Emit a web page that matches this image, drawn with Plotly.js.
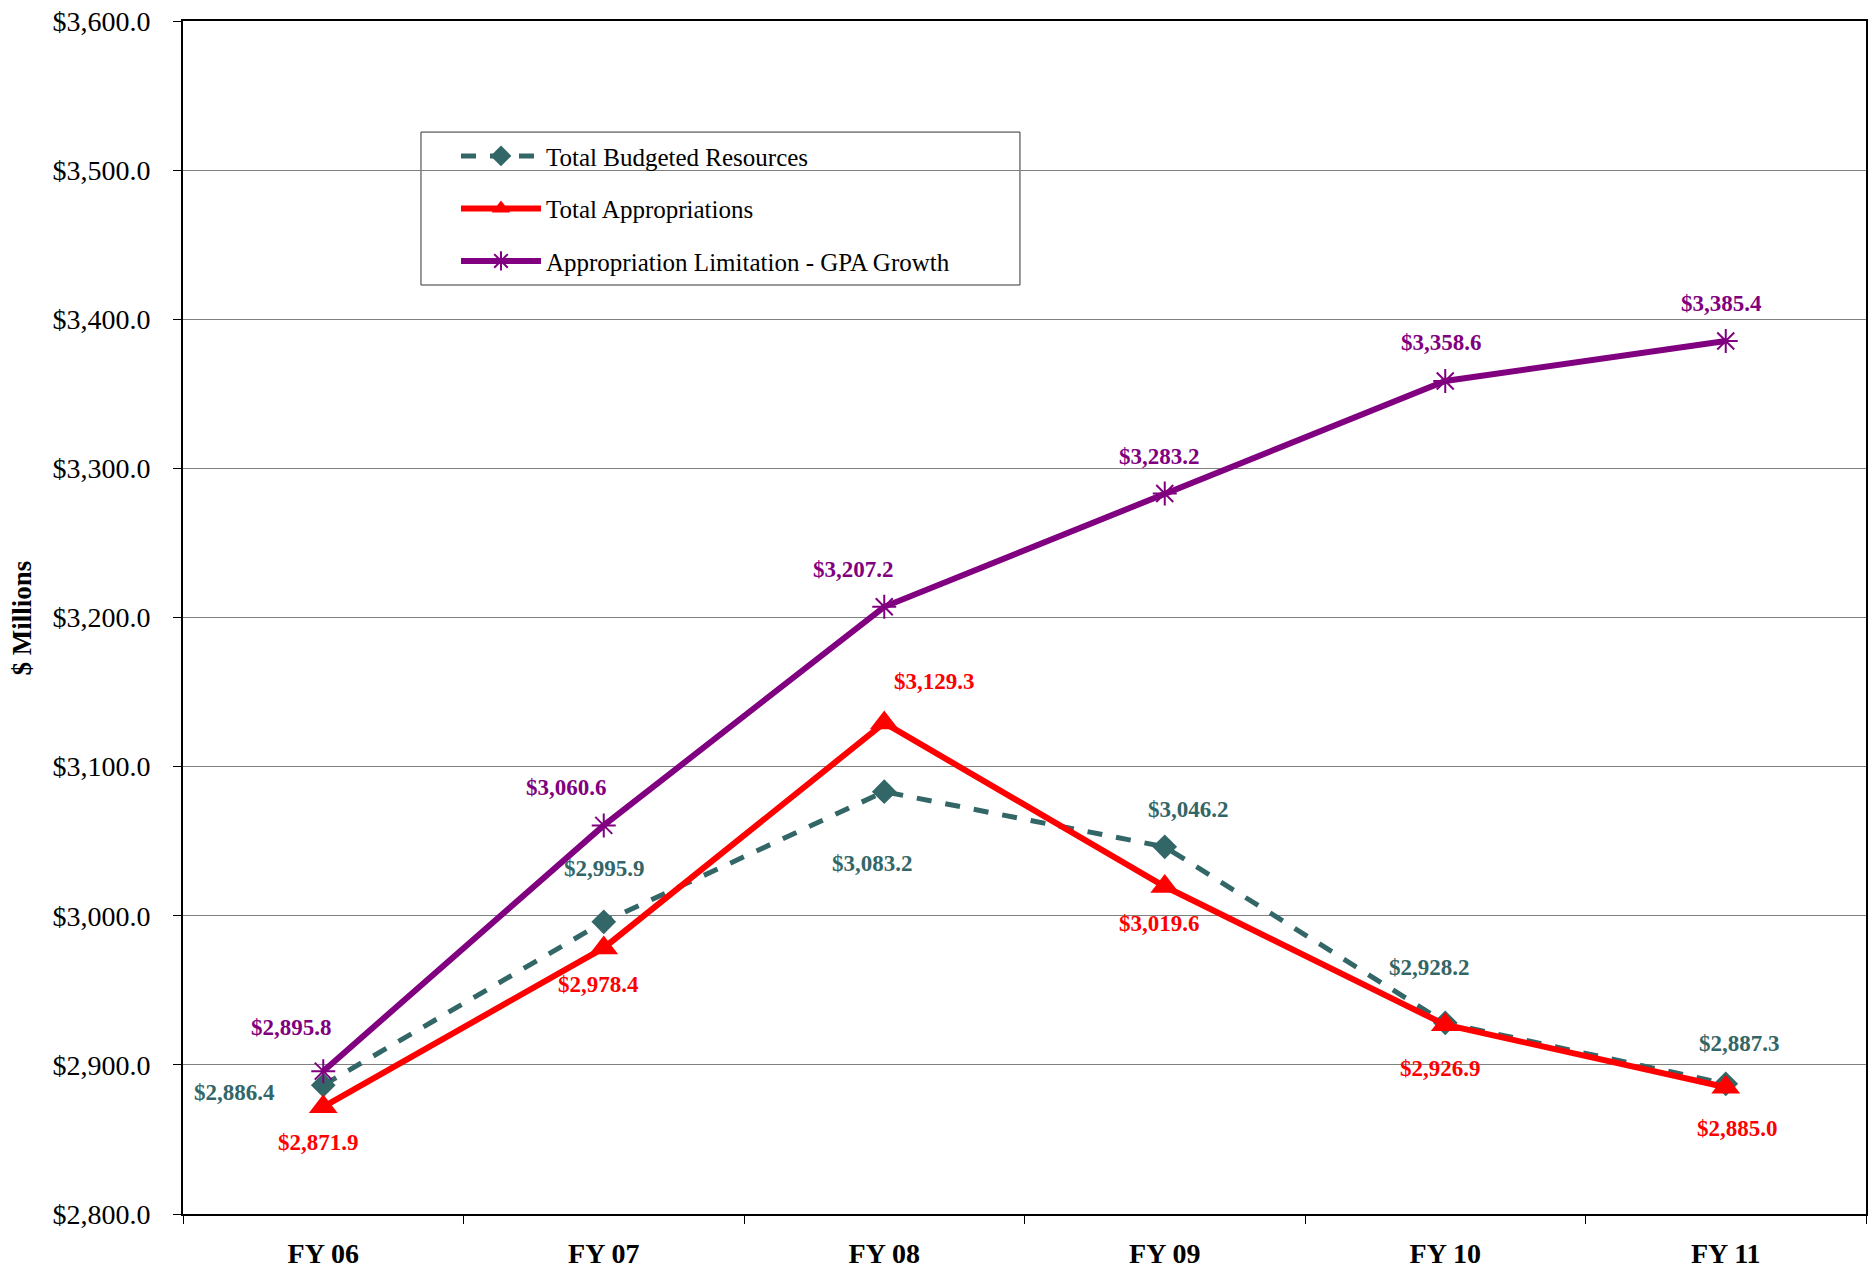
<!DOCTYPE html>
<html>
<head>
<meta charset="utf-8">
<script src="https://cdn.plot.ly/plotly-3.0.1.min.js"></script>
<style>html,body{margin:0;padding:0;background:#fff;}#chart{width:1875px;height:1273px;}</style>
</head>
<body>
<div id="chart"></div>
<script>
const categories = ["FY 06", "FY 07", "FY 08", "FY 09", "FY 10", "FY 11"];
const budgetedResources = [2886.4, 2995.9, 3083.2, 3046.2, 2928.2, 2887.3];
const appropriations = [2871.9, 2978.4, 3129.3, 3019.6, 2926.9, 2885.0];
const limitation = [2895.8, 3060.6, 3207.2, 3283.2, 3358.6, 3385.4];
const yTickValues = [2800, 2900, 3000, 3100, 3200, 3300, 3400, 3500, 3600];

const teal = "#336666", red = "#FF0000", purple = "#800080";
const fmt = v => "$" + v.toLocaleString("en-US", {minimumFractionDigits: 1, maximumFractionDigits: 1});

// label offsets in px (dx, dy)
const tealOff = [[-89,-7],[1,53],[-12,-72],[24,37],[-16,55],[14,40]];
const redOff = [[-5,-36],[-5,-37],[50,41],[-5,-37],[-5,-44],[12,-41]];
const purpleOff = [[-32,44],[-37,38],[-31,37],[-5,37],[-4,38],[-4,38]];

const traces = [
  {x: categories, y: budgetedResources, name: "Total Budgeted Resources", type: "scatter", mode: "lines+markers",
   legendgroup: "a", line: {color: teal, width: 5, dash: "15px,14px"},
   marker: {symbol: "diamond", size: 19, color: teal}},
  {x: categories, y: appropriations, name: "Total Appropriations", type: "scatter", mode: "lines+markers",
   legendgroup: "b", line: {color: red, width: 6},
   marker: {symbol: "triangle-up", size: 25, color: red}},
  {x: categories, y: limitation, name: "Appropriation Limitation - GPA Growth", type: "scatter", mode: "lines+markers",
   legendgroup: "c", line: {color: purple, width: 6},
   marker: {symbol: "asterisk-open", size: 20, color: purple, line: {color: purple, width: 2}}}
];

const annotations = [];
function addLabels(vals, offs, color) {
  vals.forEach((v, i) => {
    annotations.push({x: categories[i], y: v, xref: "x", yref: "y", text: fmt(v), showarrow: false,
      xshift: offs[i][0], yshift: offs[i][1],
      font: {family: "Liberation Serif", size: 23, color: color, weight: "bold"}});
  });
}
addLabels(budgetedResources, tealOff, teal);
addLabels(appropriations, redOff, red);
addLabels(limitation, purpleOff, purple);
annotations.push({xref: "paper", yref: "paper", x: -0.0957, y: 0.5, xanchor: "center", yanchor: "middle",
  text: "$ Millions", textangle: -90, showarrow: false,
  font: {family: "Liberation Serif", size: 27, color: "#000", weight: "bold"}});

const layout = {
  width: 1875, height: 1273,
  margin: {l: 183, r: 9, t: 21, b: 59},
  paper_bgcolor: "#fff", plot_bgcolor: "#fff",
  font: {family: "Liberation Serif", color: "#000"},
  showlegend: true,
  legend: {x: 0.1622, y: 0.906, xanchor: "left", yanchor: "top", bgcolor: "rgba(0,0,0,0)",
    borderwidth: 0, traceorder: "grouped", tracegroupgap: 17,
    font: {family: "Liberation Serif", size: 25, color: "#000"}, itemwidth: 80},
  shapes: [{type: "rect", xref: "paper", yref: "paper", x0: 0.1414, x1: 0.4973, y0: 0.7787, y1: 0.9069,
    line: {color: "#333", width: 1}, fillcolor: "#fff", layer: "between"}],
  xaxis: {type: "category", range: [-0.5, 5.5], tickson: "boundaries", ticks: "outside", ticklen: 8,
    tickcolor: "#000", tickwidth: 1, showline: true, linecolor: "#000", linewidth: 2, mirror: true,
    showgrid: false, zeroline: false, ticklabelstandoff: 13,
    tickfont: {family: "Liberation Serif", size: 28, color: "#000", weight: "bold"}},
  yaxis: {range: [2800, 3600], tickvals: yTickValues, ticktext: yTickValues.map(fmt),
    ticks: "outside", ticklen: 8, tickcolor: "#000", tickwidth: 1,
    showline: true, linecolor: "#000", linewidth: 2, mirror: true,
    showgrid: true, gridcolor: "#808080", gridwidth: 1, zeroline: false, ticklabelstandoff: 17,
    tickfont: {family: "Liberation Serif", size: 28, color: "#000"}},
  annotations: annotations
};

Plotly.newPlot("chart", traces, layout, {displayModeBar: false, staticPlot: true});
</script>
</body>
</html>
